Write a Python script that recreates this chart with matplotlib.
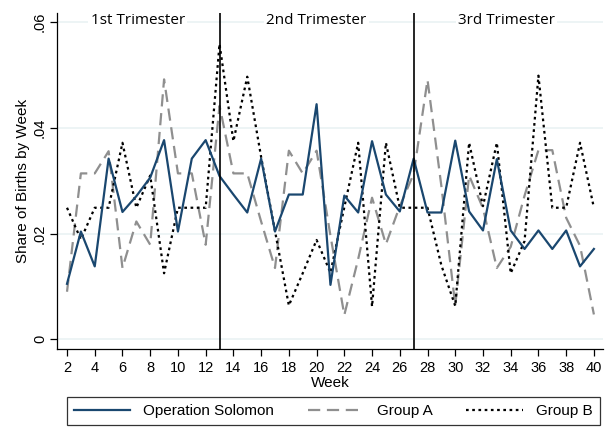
import numpy as np
import matplotlib.pyplot as plt

plt.rcParams['font.family'] = ['Liberation Sans', 'DejaVu Sans']

# weeks of pregnancy at birth
weeks = np.arange(2, 41)

# share of births by week
solomon = [0.0105, 0.0204, 0.0138, 0.0342, 0.0241, 0.0271, 0.0306, 0.0377, 0.0204, 0.0342,
           0.0377, 0.0309, 0.0274, 0.0240, 0.0342, 0.0204, 0.0274, 0.0274, 0.0445, 0.0103,
           0.0272, 0.0240, 0.0375, 0.0274, 0.0242, 0.0342, 0.0240, 0.0240, 0.0376, 0.0242,
           0.0206, 0.0341, 0.0206, 0.0171, 0.0206, 0.0171, 0.0206, 0.0138, 0.0171]
group_a = [0.0090, 0.0314, 0.0314, 0.0356, 0.0135, 0.0223, 0.0179, 0.0492, 0.0314, 0.0314,
           0.0179, 0.0442, 0.0314, 0.0314, 0.0223, 0.0135, 0.0357, 0.0314, 0.0357, 0.0196,
           0.0046, 0.0152, 0.0268, 0.0180, 0.0252, 0.0313, 0.0491, 0.0290, 0.0064, 0.0310,
           0.0248, 0.0135, 0.0175, 0.0272, 0.0358, 0.0358, 0.0230, 0.0177, 0.0047]
group_b = [0.0249, 0.0189, 0.0249, 0.0249, 0.0372, 0.0249, 0.0310, 0.0125, 0.0249, 0.0249,
           0.0249, 0.0559, 0.0375, 0.0497, 0.0345, 0.0205, 0.0064, 0.0125, 0.0188, 0.0126,
           0.0250, 0.0372, 0.0062, 0.0372, 0.0249, 0.0249, 0.0249, 0.0140, 0.0063, 0.0372,
           0.0252, 0.0372, 0.0125, 0.0186, 0.0499, 0.0249, 0.0249, 0.0372, 0.0249]

trimesters = ["1st Trimester", "2nd Trimester", "3rd Trimester"]
trim_x = [7.1, 20, 33.7]
cutoffs = [13, 27]

fig = plt.figure(figsize=(6.09, 4.32), dpi=100)
ax = fig.add_axes([0.0941, 0.1921, 0.8959, 0.7779])

for yv in [0, 0.02, 0.04, 0.06]:
    ax.axhline(yv, color='#eaf2f3', lw=1.2, zorder=0)

l1, = ax.plot(weeks, solomon, color='#1a476f', lw=1.6, label='Operation Solomon', zorder=3)
l2, = ax.plot(weeks, group_a, color='#8f8f8f', lw=1.6, dashes=(5.5, 3), label='Group A', zorder=2)
l3, = ax.plot(weeks, group_b, color='black', lw=1.6, dashes=(1.2, 1.6), label='Group B', zorder=2)

for c in cutoffs:
    ax.axvline(c, color='black', lw=1.2, zorder=4)

for t, xx in zip(trimesters, trim_x):
    ax.text(xx, 0.0603, t, ha='center', va='center', fontsize=11, family=['Open Sans', 'DejaVu Sans'],
            bbox=dict(facecolor='white', edgecolor='none', pad=1.5), zorder=5)

ax.set_xlim(1.3, 40.65)
ax.set_ylim(-0.00184, 0.06177)
ax.set_xticks(np.arange(2, 41, 2))
ax.set_yticks([0, 0.02, 0.04, 0.06])
ax.set_yticklabels(['0', '.02', '.04', '.06'], rotation=90, va='center')
ax.tick_params(labelsize=10.5, length=5, width=0.9, color='black')
ax.tick_params(axis='y', pad=2.5)
ax.set_xlabel('Week', fontsize=11, labelpad=1)
ax.set_ylabel('Share of Births by Week', fontsize=11, labelpad=2)

for s in ['top', 'right']:
    ax.spines[s].set_visible(False)
for s in ['left', 'bottom']:
    ax.spines[s].set_linewidth(0.9)

leg = fig.legend(handles=[l1, l2, l3], loc='center', bbox_to_anchor=(0.547, 0.0486), ncol=3,
                 fontsize=11, frameon=True, fancybox=False, edgecolor='black', handlelength=3.7,
                 columnspacing=2.2, handletextpad=0.85, borderpad=0.45, borderaxespad=0)
leg.get_frame().set_linewidth(0.9)

fig.savefig('out.png', dpi=100)
